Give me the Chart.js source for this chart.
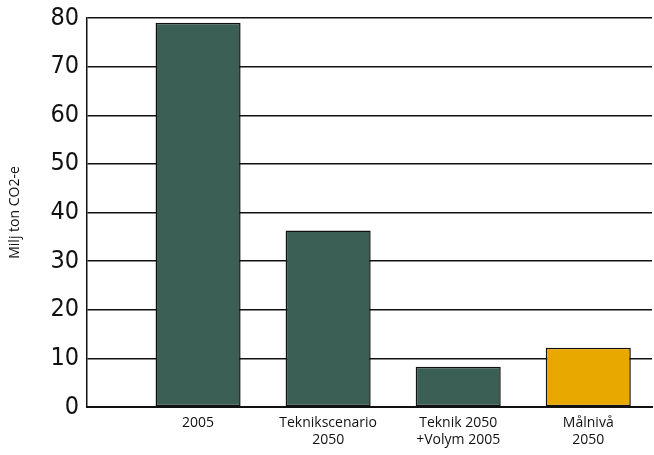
<!DOCTYPE html>
<html>
<head>
<meta charset="utf-8">
<script src="https://cdn.jsdelivr.net/npm/chart.js@4"></script>
<style>
  body { margin: 0; background: #fff; }
  #wrap { width: 654px; height: 455px; }
</style>
</head>
<body>
<div id="wrap"><canvas id="barChart"></canvas></div>
<script>
// Utsläpp, Milj ton CO2-e
const categories = [["2005"], ["Teknikscenario", "2050"], ["Teknik 2050", "+Volym 2005"], ["Målnivå", "2050"]];
const values = [79, 36.3, 8.3, 12.2];
const barColors = ["#3b5e55", "#3b5e55", "#3b5e55", "#e8a800"];
const yTicks = [0, 10, 20, 30, 40, 50, 60, 70, 80];

const font = "'Liberation Sans Narrow', 'DejaVu Sans Condensed', 'Open Sans', sans-serif";

const ctx = document.getElementById("barChart").getContext("2d");
new Chart(ctx, {
  type: "bar",
  data: {
    datasets: [
      {
        label: "Milj ton CO2-e",
        data: values.map((v, i) => ({ x: i + 1, y: v })),
        backgroundColor: barColors,
        borderColor: "#111",
        borderWidth: 1.5,
        borderSkipped: false,
        barPercentage: 0.654,
        categoryPercentage: 1,
      },
    ],
  },
  options: {
    responsive: true,
    maintainAspectRatio: false,
    animation: false,
    layout: { padding: { top: 0, right: 2, left: 7, bottom: 0 } },
    plugins: {
      legend: { display: false },
      tooltip: { enabled: false },
    },
    scales: {
      x: {
        type: "linear",
        offset: false,
        min: 0.146,
        max: 4.49,
        afterBuildTicks: (scale) => {
          scale.ticks = categories.map((c, i) => ({ value: i + 1 }));
        },
        afterFit: (scale) => { scale.height = 48; },
        ticks: {
          callback: (v) => categories[v - 1],
          color: "#111",
          font: { family: "'Open Sans', sans-serif", size: 14 },
          maxRotation: 0,
          autoSkip: false,
          padding: 0,
        },
        grid: { display: false },
        border: { color: "#111", width: 2 },
      },
      y: {
        min: 0,
        max: 80,
        afterBuildTicks: (scale) => {
          scale.ticks = yTicks.map((v) => ({ value: v }));
        },
        afterFit: (scale) => { scale.width = 80; },
        title: {
          display: true,
          text: "Milj ton CO2-e",
          color: "#111",
          font: { family: "'Open Sans', sans-serif", size: 14 },
          padding: { top: 0, bottom: 0 },
        },
        ticks: {
          color: "#111",
          font: { family: font, size: 25, lineHeight: 0.8 },
          padding: 8,
        },
        grid: { color: "#111", lineWidth: 1.5, tickLength: 0 },
        border: { color: "#111", width: 1.5 },
      },
    },
  },
});
</script>
</body>
</html>
